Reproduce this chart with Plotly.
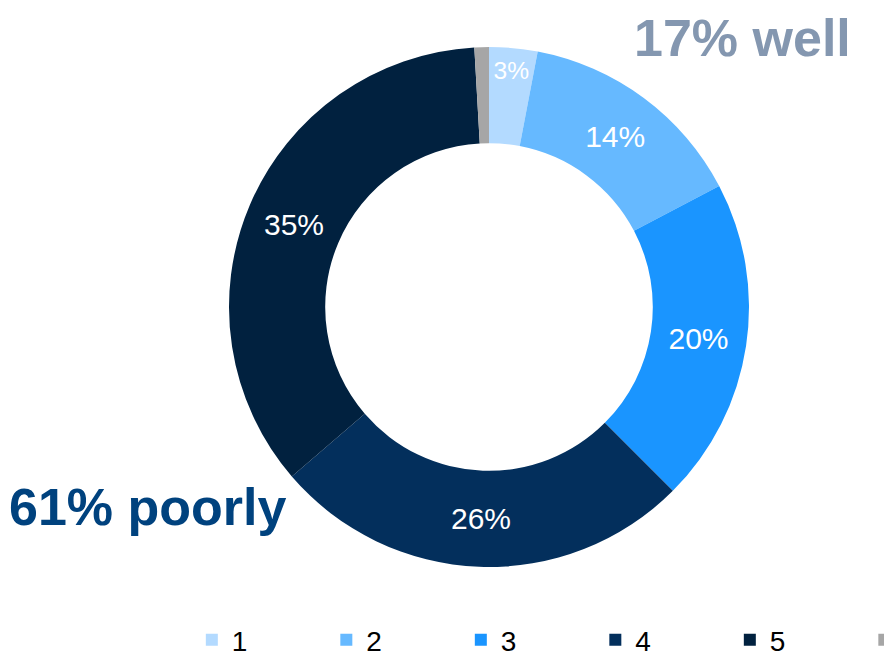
import plotly.graph_objects as go

categories = ["1", "2", "3", "4", "5", " "]
values = [3, 14.3, 20.2, 26.2, 35.4, 0.9]
slice_text = ["3%", "14%", "20%", "26%", "35%", ""]
colors = ["#B3DAFF", "#66B9FF", "#1A95FF", "#032F5C", "#01213F", "#A6A6A6"]

W, H = 884, 662
cx, cy, R = 489, 307, 260
FONT = "Arial, Liberation Sans, sans-serif"

fig = go.Figure(go.Pie(
    labels=categories,
    values=values,
    text=slice_text,
    textinfo="text",
    textposition="inside",
    insidetextorientation="horizontal",
    textfont=dict(family=FONT, size=30, color="white"),
    marker=dict(colors=colors, line=dict(width=0)),
    hole=0.63,
    sort=False,
    direction="clockwise",
    rotation=0,
    domain=dict(x=[(cx - R) / W, (cx + R) / W], y=[(H - cy - R) / H, (H - cy + R) / H]),
))

fig.update_layout(
    width=W, height=H,
    margin=dict(l=0, r=0, t=0, b=0, autoexpand=False),
    paper_bgcolor="white",
    showlegend=True,
    legend=dict(
        orientation="h",
        x=0.217, xanchor="left",
        y=0.033, yanchor="middle",
        entrywidth=89.5, entrywidthmode="pixels",
        font=dict(family=FONT, size=28, color="black"),
        bgcolor="rgba(0,0,0,0)",
    ),
    annotations=[
        dict(text="<b>17% well</b>", x=742 / W, y=1 - 38 / H, xref="paper", yref="paper",
             showarrow=False, xanchor="center", yanchor="middle",
             font=dict(family=FONT, size=52, color="#8497B0")),
        dict(text="<b>61% poorly</b>", x=147 / W, y=1 - 507 / H, xref="paper", yref="paper",
             showarrow=False, xanchor="center", yanchor="middle",
             font=dict(family=FONT, size=52, color="#00427E")),
    ],
)

fig.write_html("out.html", config={"displayModeBar": False},
               post_script="document.body.style.margin='0';")
